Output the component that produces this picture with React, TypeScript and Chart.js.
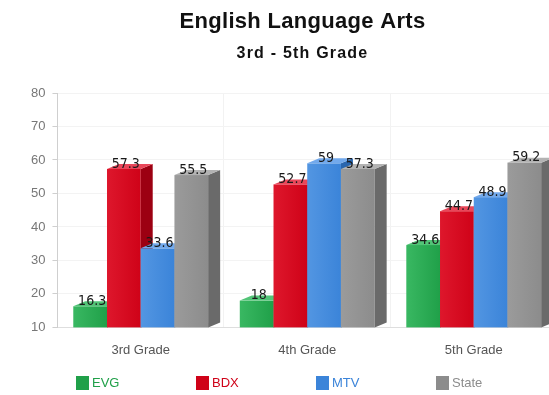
import { useEffect, useRef } from 'react';
import { Chart, registerables } from 'chart.js';

Chart.register(...registerables);

// Chart content
const titleText = 'English Language Arts';
const subtitleText = '3rd - 5th Grade';
const grades = ['3rd Grade', '4th Grade', '5th Grade'];
const seriesNames = ['EVG', 'BDX', 'MTV', 'State'];
const evgScores = [16.3, 18, 34.6];
const bdxScores = [57.3, 52.7, 44.7];
const mtvScores = [33.6, 59, 48.9];
const stateScores = [55.5, 57.3, 59.2];
const yTicks = [10, 20, 30, 40, 50, 60, 70, 80];

const seriesValues = [evgScores, bdxScores, mtvScores, stateScores];

// Face colours for the extruded bars: front, side, top
const palette = [
  { front: '#20a049', light: '#39b862', side: '#167d37', top: '#52c477' },
  { front: '#cf0218', light: '#de172c', side: '#9c0012', top: '#e9475a' },
  { front: '#3b84d9', light: '#5396e2', side: '#2a66ae', top: '#72a9ec' },
  { front: '#8c8c8c', light: '#9b9b9b', side: '#6a6a6a', top: '#b3b3b3' },
];

const DEPTH_X = 12;
const DEPTH_Y = -5;
const FONT = '"Liberation Sans", Arial, sans-serif';
const NARROW = '"Liberation Sans Narrow", "DejaVu Sans Condensed", Arial, sans-serif';

// Draws every bar as a box with a visible right side and top, then the value labels.
const bar3d = {
  id: 'bar3d',
  beforeDatasetDraw: () => false,
  afterDatasetsDraw(chart: any) {
    const ctx: CanvasRenderingContext2D = chart.ctx;
    const metas = chart.data.datasets.map((_: any, i: number) => chart.getDatasetMeta(i));
    const count = chart.data.labels.length;
    const floor = chart.chartArea.bottom;
    ctx.save();
    for (let c = 0; c < count; c++) {
      metas.forEach((meta: any, d: number) => {
        const bar = meta.data[c];
        if (!bar) return;
        const { x, y, width } = bar.getProps(['x', 'y', 'width'], true);
        const base = floor;
        const left = x - width / 2;
        const right = x + width / 2;
        const col = palette[d];
        const grad = ctx.createLinearGradient(left, 0, right, 0);
        grad.addColorStop(0, col.light);
        grad.addColorStop(1, col.front);
        ctx.fillStyle = grad;
        ctx.fillRect(left, y, width, base - y);
        // side
        ctx.fillStyle = col.side;
        ctx.beginPath();
        ctx.moveTo(right, y);
        ctx.lineTo(right + DEPTH_X, y + DEPTH_Y);
        ctx.lineTo(right + DEPTH_X, base + DEPTH_Y);
        ctx.lineTo(right, base);
        ctx.closePath();
        ctx.fill();
        // top
        ctx.fillStyle = col.top;
        ctx.beginPath();
        ctx.moveTo(left, y);
        ctx.lineTo(left + DEPTH_X, y + DEPTH_Y);
        ctx.lineTo(right + DEPTH_X, y + DEPTH_Y);
        ctx.lineTo(right, y);
        ctx.closePath();
        ctx.fill();
      });
    }
    // value labels
    ctx.font = `14px ${NARROW}`;
    ctx.fillStyle = '#1a1a1a';
    ctx.textAlign = 'center';
    ctx.textBaseline = 'bottom';
    metas.forEach((meta: any, d: number) => {
      meta.data.forEach((bar: any, i: number) => {
        const { x, y } = bar.getProps(['x', 'y'], true);
        ctx.fillText(String(seriesValues[d][i]), x + 2, y + 2);
      });
    });
    ctx.restore();
  },
};

// Title, subtitle and a legend with evenly spaced entries
const headings = {
  id: 'headings',
  afterDraw(chart: any) {
    const ctx: CanvasRenderingContext2D = chart.ctx as any;
    const cx = chart.width / 2;
    ctx.save();
    ctx.fillStyle = '#111';
    ctx.textAlign = 'center';
    ctx.textBaseline = 'alphabetic';
    ctx.font = `bold 22px ${FONT}`;
    (ctx as any).letterSpacing = '0.3px';
    ctx.fillText(titleText, cx, 28);
    ctx.font = `bold 16px ${FONT}`;
    (ctx as any).letterSpacing = '1.2px';
    ctx.fillText(subtitleText, cx, 58);
    (ctx as any).letterSpacing = '0px';

    const startX = 76;
    const step = 120;
    const cy = 383;
    ctx.font = `13px ${FONT}`;
    ctx.textAlign = 'left';
    ctx.textBaseline = 'middle';
    seriesNames.forEach((name, i) => {
      const x0 = startX + i * step;
      ctx.fillStyle = palette[i].front;
      ctx.fillRect(x0, cy - 7, 13, 14);
      ctx.fillText(name, x0 + 16, cy);
    });
    ctx.restore();
  },
};

export default function App() {
  const ref = useRef<HTMLCanvasElement>(null);

  useEffect(() => {
    const canvas = ref.current;
    if (!canvas) return;
    const chart = new Chart(canvas, {
      type: 'bar',
      data: {
        labels: grades,
        datasets: seriesNames.map((name, i) => ({
          label: name,
          data: seriesValues[i],
          backgroundColor: palette[i].front,
          barPercentage: 1,
          categoryPercentage: 0.81,
        })),
      },
      options: {
        responsive: false,
        animation: false,
        layout: { padding: { top: 93, left: 24, right: 48, bottom: 22 } },
        plugins: {
          legend: { display: false },
          title: { display: false },
          tooltip: { enabled: false },
        },
        scales: {
          x: {
            grid: { display: true, offset: true, color: '#f2f2f2', drawTicks: false },
            border: { color: '#dedede' },
            ticks: { padding: 15, color: '#555', font: { family: FONT, size: 13 } },
          },
          y: {
            min: 10,
            max: 80,
            afterBuildTicks: (axis: any) => {
              axis.ticks = yTicks.map((v) => ({ value: v }));
            },
            ticks: { padding: 7, color: '#777', font: { family: FONT, size: 13 } },
            grid: { color: '#f3f3f3', tickLength: 5, tickColor: '#cfcfcf' },
            border: { color: '#cfcfcf' },
          },
        },
      },
      plugins: [bar3d, headings],
    });
    return () => chart.destroy();
  }, []);

  return (
    <div
      style={{
        position: 'fixed',
        left: 0,
        top: 0,
        width: 549,
        height: 395,
        overflow: 'hidden',
        background: '#fff',
      }}
    >
      <canvas ref={ref} width={605} height={395} style={{ display: 'block' }} />
    </div>
  );
}
